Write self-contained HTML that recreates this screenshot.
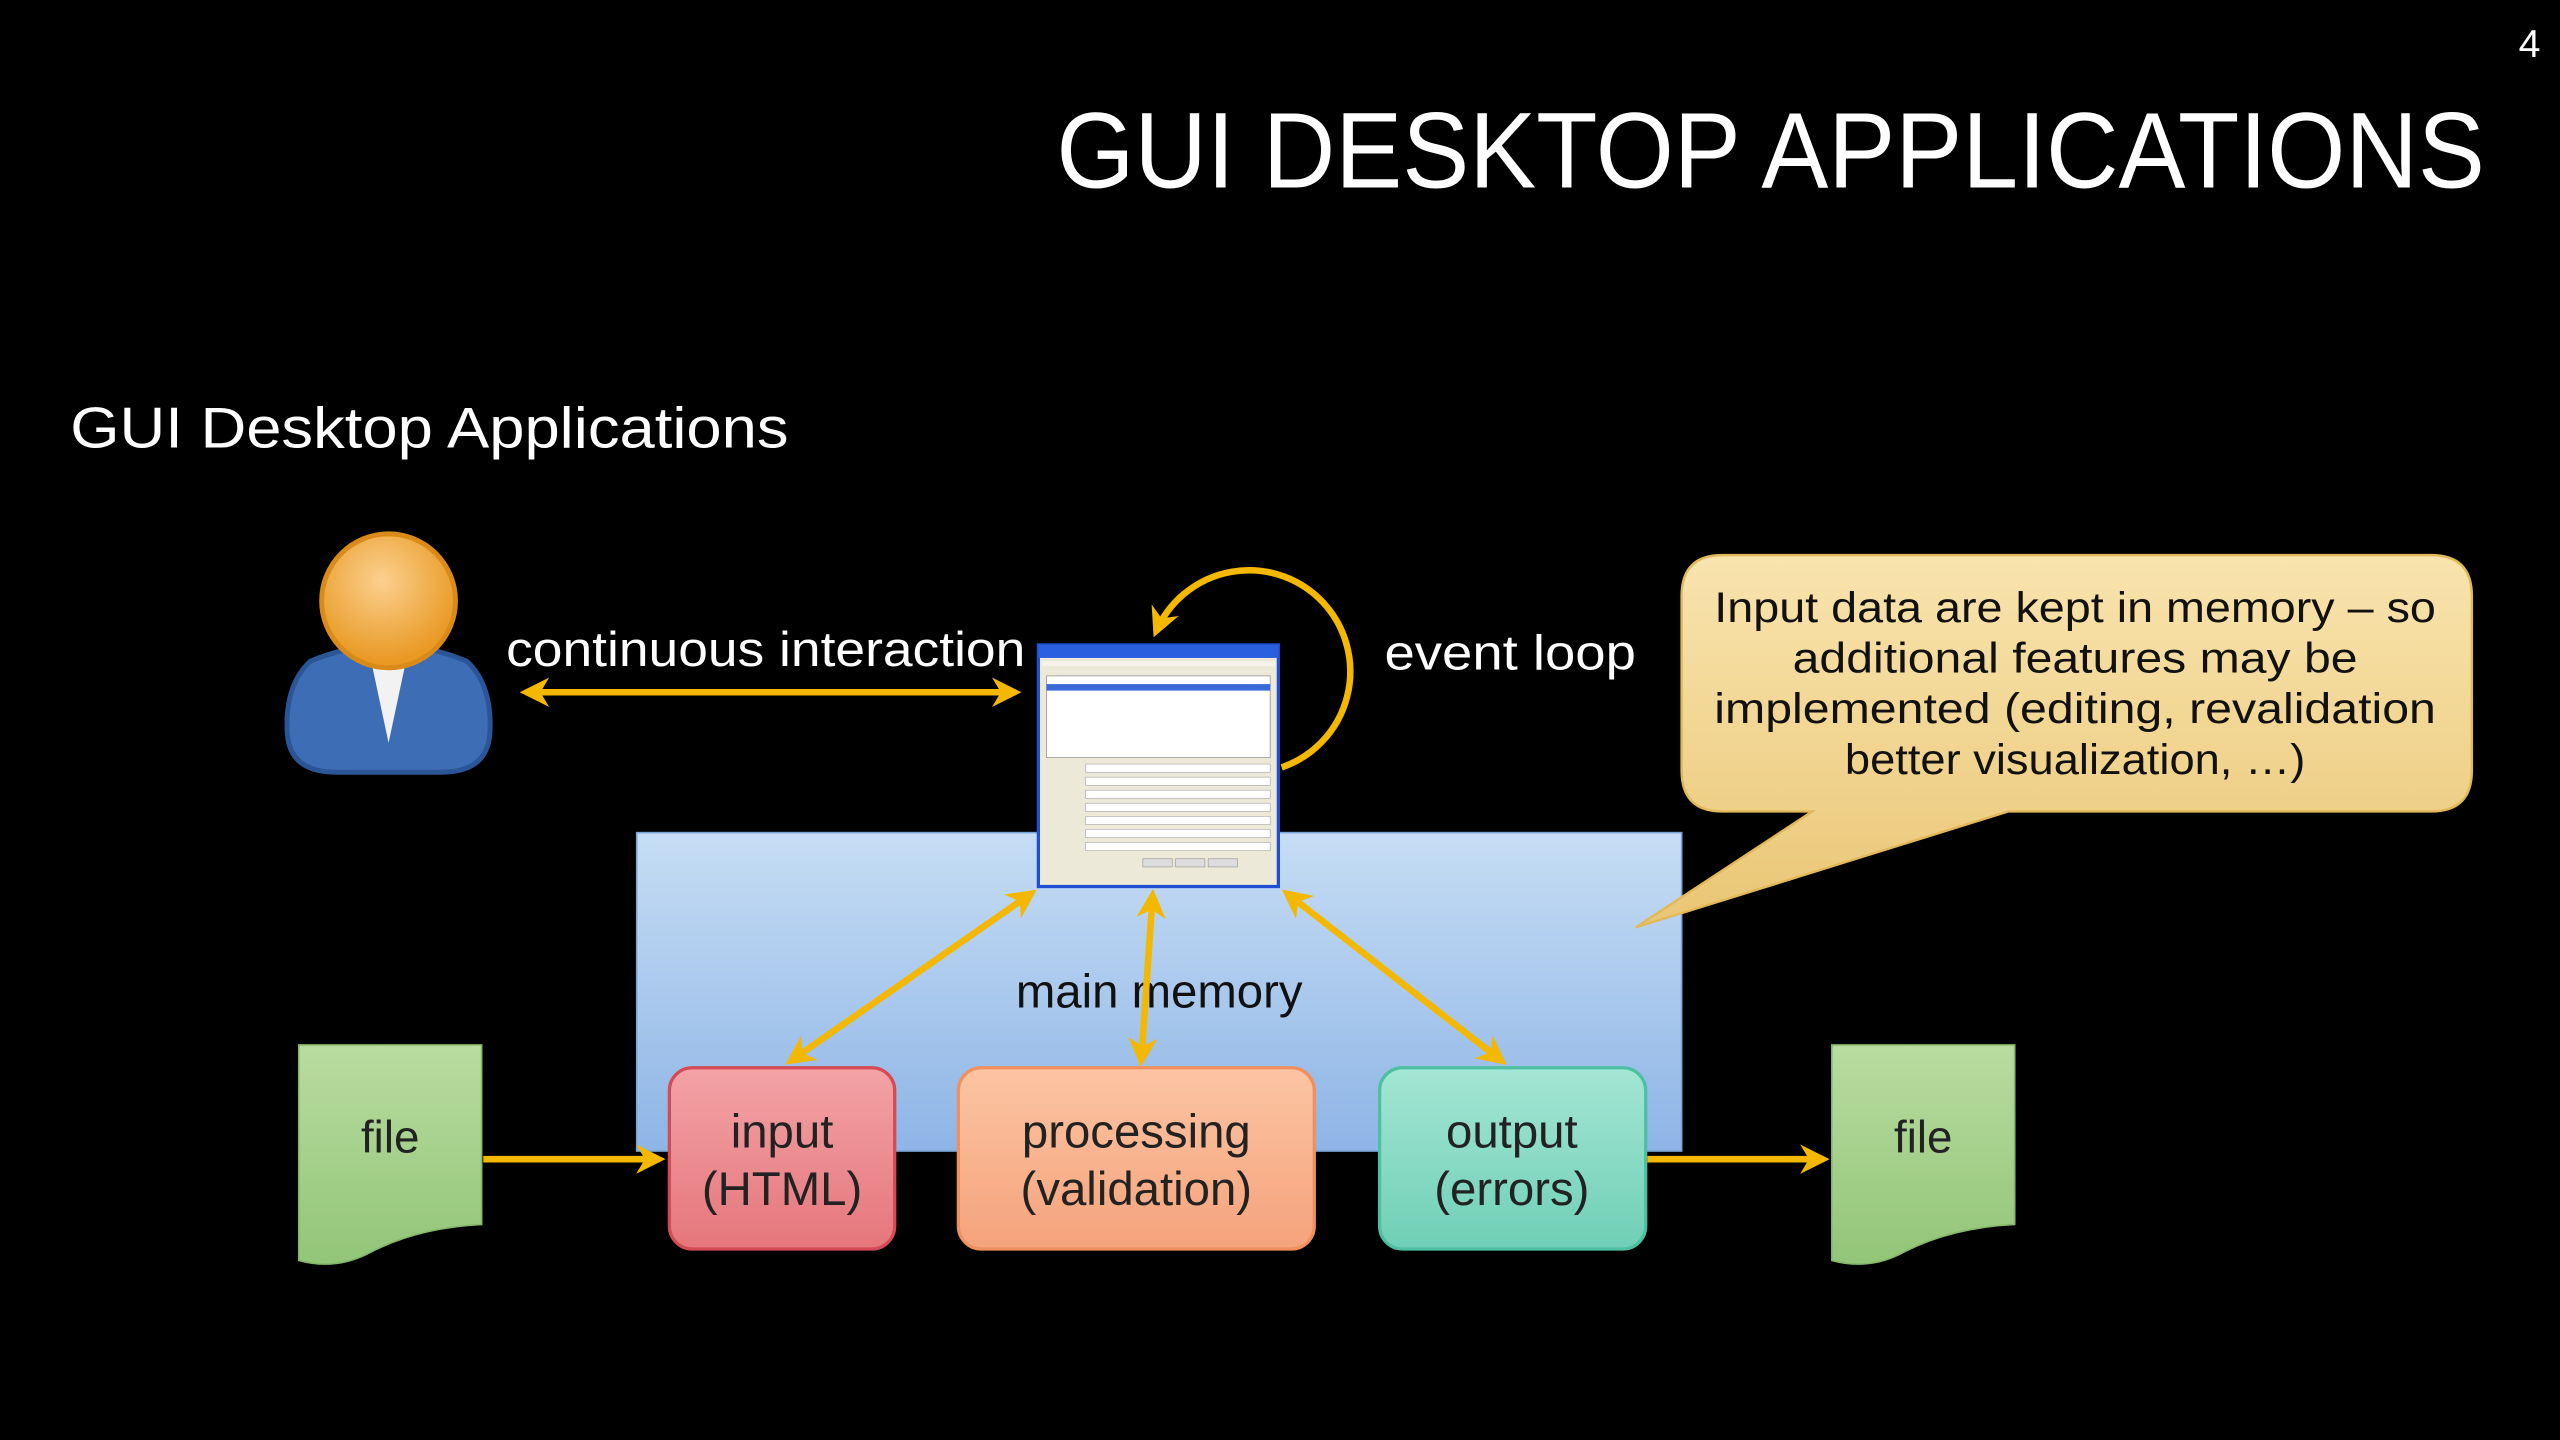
<!DOCTYPE html>
<html><head><meta charset="utf-8"><style>html,body{margin:0;padding:0;background:#000;overflow:hidden}svg{display:block}</style></head>
<body>
<svg width="2560" height="1440" viewBox="0 0 1568 882" xmlns="http://www.w3.org/2000/svg" font-family="'Liberation Sans', 'DejaVu Sans', sans-serif">
<defs>
<linearGradient id="mem" x1="0" y1="0" x2="0" y2="1"><stop offset="0" stop-color="#c6ddf4"/><stop offset="1" stop-color="#8eb5e6"/></linearGradient>
<linearGradient id="call" x1="0" y1="0" x2="0" y2="1"><stop offset="0" stop-color="#f9e4ae"/><stop offset="1" stop-color="#e9c675"/></linearGradient>
<linearGradient id="inp" x1="0" y1="0" x2="0" y2="1"><stop offset="0" stop-color="#f3a3a6"/><stop offset="1" stop-color="#e5767c"/></linearGradient>
<linearGradient id="proc" x1="0" y1="0" x2="0" y2="1"><stop offset="0" stop-color="#fcc4a3"/><stop offset="1" stop-color="#f5a37b"/></linearGradient>
<linearGradient id="outp" x1="0" y1="0" x2="0" y2="1"><stop offset="0" stop-color="#a4e6d4"/><stop offset="1" stop-color="#6fcfb5"/></linearGradient>
<linearGradient id="file" x1="0" y1="0" x2="0" y2="1"><stop offset="0" stop-color="#b9dca0"/><stop offset="1" stop-color="#92c578"/></linearGradient>
<radialGradient id="head" cx="0.45" cy="0.35" r="0.6"><stop offset="0" stop-color="#fbd08f"/><stop offset="1" stop-color="#e99a25"/></radialGradient>
<marker id="ah" viewBox="0 0 10 10" refX="8" refY="5" markerWidth="4.5" markerHeight="4.5" orient="auto-start-reverse"><path d="M0,0 L10,5 L0,10 L3,5 Z" fill="#f5b800"/></marker>
</defs>
<rect width="1568" height="882" fill="#000"/>
<text x="1556" y="35" fill="#fff" font-size="24" text-anchor="end">4</text>
<text x="647" y="115" fill="#fff" font-size="66" textLength="875" lengthAdjust="spacingAndGlyphs">GUI DESKTOP APPLICATIONS</text>
<text x="43" y="274" fill="#fff" font-size="35" textLength="440" lengthAdjust="spacingAndGlyphs">GUI Desktop Applications</text>

<rect x="390" y="510" width="640" height="195" fill="url(#mem)" stroke="#7da6d8" stroke-width="1"/>
<text x="710" y="617" fill="#111" font-size="29" text-anchor="middle">main memory</text>

<path d="M190,405 Q238,385 286,405 Q302,420 300,450 Q298,473 270,473 L206,473 Q178,473 176,450 Q174,420 190,405 Z" fill="#3c6db5" stroke="#2a5596" stroke-width="3"/>
<path d="M228,408 L238,455 L248,408 Z" fill="#f2f2f2"/>
<circle cx="238" cy="368" r="41" fill="url(#head)" stroke="#d98a18" stroke-width="3"/>

<text x="310" y="408" fill="#fff" font-size="30" textLength="318" lengthAdjust="spacingAndGlyphs">continuous interaction</text>
<line x1="322" y1="424" x2="622" y2="424" stroke="#f5b800" stroke-width="4" marker-start="url(#ah)" marker-end="url(#ah)"/>

<path d="M785,470 A62,62 0 1 0 708,387" fill="none" stroke="#f5b800" stroke-width="4" marker-end="url(#ah)"/>
<text x="848" y="410" fill="#fff" font-size="30" textLength="154" lengthAdjust="spacingAndGlyphs">event loop</text>

<rect x="636" y="395" width="147" height="148" fill="#ece9d8" stroke="#1f4fd0" stroke-width="2"/>
<rect x="636" y="395" width="147" height="8" fill="#2a5fe0"/>
<rect x="638" y="405" width="143" height="3" fill="#f4f2e8"/>
<rect x="641" y="414" width="137" height="50" fill="#fff" stroke="#999" stroke-width="0.5"/>
<rect x="641" y="419" width="137" height="4" fill="#3a6ad8"/>
<g fill="#fff" stroke="#aaa" stroke-width="0.4">
<rect x="665" y="468" width="113" height="5"/><rect x="665" y="476" width="113" height="5"/><rect x="665" y="484" width="113" height="5"/><rect x="665" y="492" width="113" height="5"/><rect x="665" y="500" width="113" height="5"/><rect x="665" y="508" width="113" height="5"/><rect x="665" y="516" width="113" height="5"/>
</g>
<g fill="#ddd" stroke="#999" stroke-width="0.4"><rect x="700" y="526" width="18" height="5"/><rect x="720" y="526" width="18" height="5"/><rect x="740" y="526" width="18" height="5"/></g>

<g stroke="#f5b800" stroke-width="4" fill="none">
<line x1="632" y1="547" x2="484" y2="650" marker-start="url(#ah)" marker-end="url(#ah)"/>
<line x1="706" y1="548" x2="699" y2="650" marker-start="url(#ah)" marker-end="url(#ah)"/>
<line x1="788" y1="547" x2="920" y2="650" marker-start="url(#ah)" marker-end="url(#ah)"/>
<line x1="296" y1="710" x2="404" y2="710" marker-end="url(#ah)"/>
<line x1="1009" y1="710" x2="1117" y2="710" marker-end="url(#ah)"/>
</g>

<rect x="410" y="654" width="138" height="111" rx="14" fill="url(#inp)" stroke="#d64a55" stroke-width="2"/>
<text x="479" y="703" fill="#222" font-size="29" text-anchor="middle">input</text>
<text x="479" y="738" fill="#222" font-size="29" text-anchor="middle">(HTML)</text>
<rect x="587" y="654" width="218" height="111" rx="14" fill="url(#proc)" stroke="#f0905e" stroke-width="2"/>
<text x="696" y="703" fill="#222" font-size="29" text-anchor="middle">processing</text>
<text x="696" y="738" fill="#222" font-size="29" text-anchor="middle">(validation)</text>
<rect x="845" y="654" width="163" height="111" rx="14" fill="url(#outp)" stroke="#4cc0a0" stroke-width="2"/>
<text x="926" y="703" fill="#222" font-size="29" text-anchor="middle">output</text>
<text x="926" y="738" fill="#222" font-size="29" text-anchor="middle">(errors)</text>

<path d="M183,640 L295,640 L295,750 Q255,752 225,768 Q205,778 183,772 Z" fill="url(#file)" stroke="#86b86a" stroke-width="1"/>
<text x="239" y="706" fill="#222" font-size="28" text-anchor="middle">file</text>
<path d="M1122,640 L1234,640 L1234,750 Q1194,752 1164,768 Q1144,778 1122,772 Z" fill="url(#file)" stroke="#86b86a" stroke-width="1"/>
<text x="1178" y="706" fill="#222" font-size="28" text-anchor="middle">file</text>

<path d="M1055,340 L1489,340 Q1514,340 1514,365 L1514,472 Q1514,497 1489,497 L1230,497 L1002,568 L1110,497 L1055,497 Q1030,497 1030,472 L1030,365 Q1030,340 1055,340 Z" fill="url(#call)" stroke="#e2b95a" stroke-width="1.5"/>
<g fill="#111" font-size="26" text-anchor="middle" lengthAdjust="spacingAndGlyphs">
<text x="1271" y="381" textLength="442" lengthAdjust="spacingAndGlyphs">Input data are kept in memory – so</text>
<text x="1271" y="412" textLength="346" lengthAdjust="spacingAndGlyphs">additional features may be</text>
<text x="1271" y="443" textLength="442" lengthAdjust="spacingAndGlyphs">implemented (editing, revalidation</text>
<text x="1271" y="474" textLength="282" lengthAdjust="spacingAndGlyphs">better visualization, …)</text>
</g>
</svg>
</body></html>
